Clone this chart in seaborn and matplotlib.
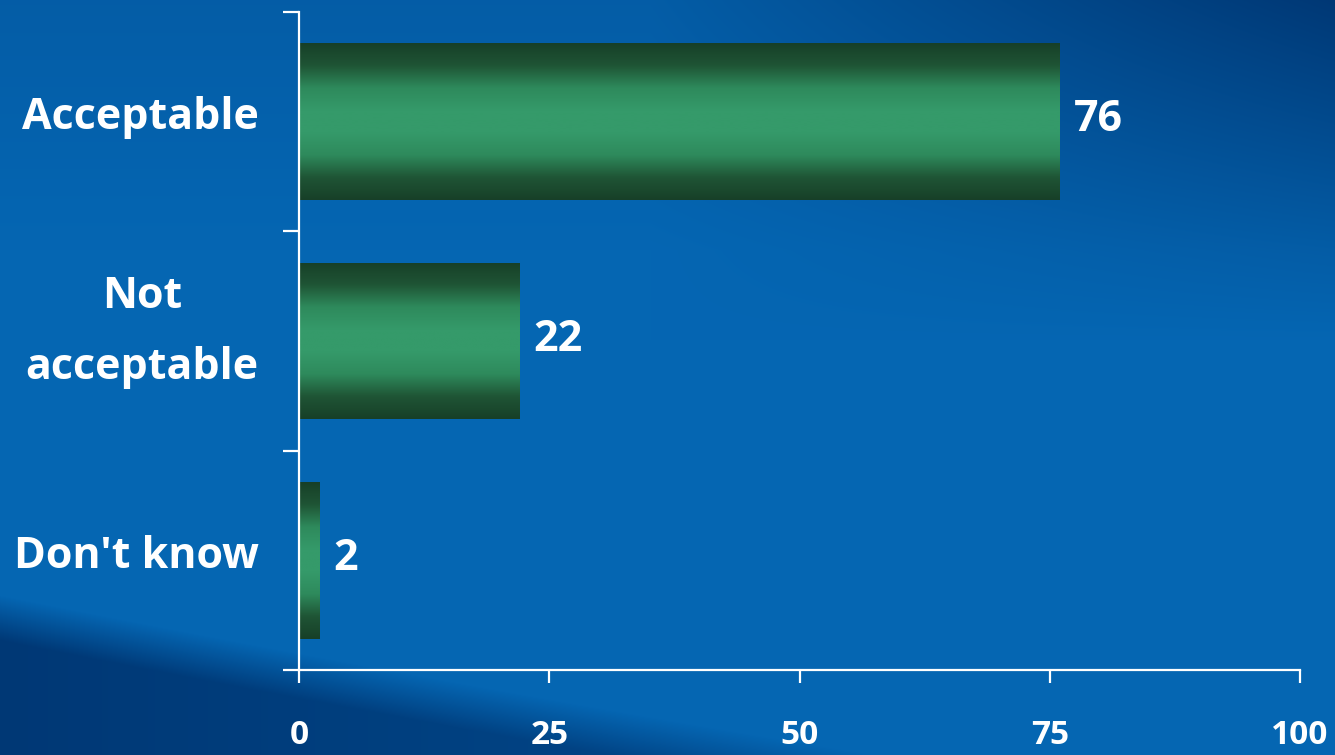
import numpy as np
import pandas as pd
import matplotlib
matplotlib.use("Agg")
import matplotlib.pyplot as plt
import matplotlib.transforms as mtransforms
import seaborn as sns
from matplotlib.colors import LinearSegmentedColormap

categories = ["Acceptable", "Not\nacceptable", "Don't know"]
values = [76, 22, 2]
x_ticks = [0, 25, 50, 75, 100]

sns.set_theme(style="white")
plt.rcParams['font.family'] = ['Open Sans', 'DejaVu Sans']

W, H = 1335, 755
fig = plt.figure(figsize=(W / 100, H / 100), dpi=100)

# background gradient
bg = fig.add_axes([0, 0, 1, 1])
yy, xx = np.mgrid[0:H, 0:W].astype(float)
base = np.array([0.02, 0.40, 0.70])
dark = np.array([0.0, 0.22, 0.46])
curve = 595 + 0.2 * xx - 0.00002 * xx ** 2
wave = np.clip((yy - curve) / 45.0, 0, 1) * (0.55 + 0.45 * np.clip(1 - xx / 1100.0, 0, 1))
tr = np.clip((xx - 650) / 685.0, 0, 1) * np.clip(1 - yy / 340.0, 0, 1) * 0.8
top = np.clip(1 - yy / 250.0, 0, 1) * 0.2
t = np.clip(wave + tr + top, 0, 1)[..., None]
img = np.clip(base * (1 - t) + dark * t, 0, 1)
bg.imshow(img, extent=[0, W, H, 0], aspect='auto')
bg.axis('off')

ax = fig.add_axes([299 / W, 1 - 670 / H, (1300 - 299) / W, (670 - 12) / H])
ax.patch.set_alpha(0)

df = pd.DataFrame({"cat": categories, "val": values})
sns.barplot(data=df, x="val", y="cat", orient="h", ax=ax, width=0.715,
            color="#2e8b5a", edgecolor="none")

cmap = LinearSegmentedColormap.from_list(
    "g", ["#173f28", "#1f5535", "#2e8a5c", "#359a6a", "#359a6a", "#2e8a5c",
          "#1f5535", "#173f28"])
grad = np.linspace(0, 1, 256)[:, None]
for p in ax.patches:
    x0, y0 = p.get_x(), p.get_y()
    w, h = p.get_width(), p.get_height()
    im = ax.imshow(grad, extent=[x0, x0 + w, y0 + h, y0], aspect='auto',
                   cmap=cmap, origin='upper', zorder=p.get_zorder() + 0.1)
    im.set_clip_path(p)
    ax.text(x0 + w + 1.4, y0 + h / 2, f"{int(round(w))}", color="white",
            fontsize=31, fontweight="bold", va="center", ha="left",
            transform=ax.transData + mtransforms.ScaledTranslation(0, 2 / 100, fig.dpi_scale_trans))
ax.set_xlim(0, 100)
ax.set_ylim(2.5, -0.5)

for s in ["top", "right"]:
    ax.spines[s].set_visible(False)
for s in ["left", "bottom"]:
    ax.spines[s].set_color("white")
    ax.spines[s].set_linewidth(1.6)

ax.set_xticks(x_ticks)
ax.set_xticklabels([str(v) for v in x_ticks])
ax.tick_params(axis="x", which="major", direction="out", bottom=True,
               length=9.5, width=1.6, color="white", labelcolor="white",
               labelsize=24, pad=26)
for lab in ax.get_xticklabels():
    lab.set_fontweight("bold")

ax.set_yticks(range(len(categories)))
ax.set_yticklabels(categories)
ax.set_yticks([-0.5, 0.5, 1.5, 2.5], minor=True)
ax.tick_params(axis="y", which="major", length=0, labelcolor="white",
               labelsize=31, pad=29)
ax.tick_params(axis="y", which="minor", direction="out", length=11.5,
               width=1.6, color="white", left=True)
for lab in ax.get_yticklabels():
    lab.set_fontweight("bold")
    lab.set_multialignment("center")
    shift = 9
    if "\n" in lab.get_text():
        lab.set_linespacing(1.85)
        shift = 28
    lab.set_transform(lab.get_transform() +
                      mtransforms.ScaledTranslation(0, shift / 100, fig.dpi_scale_trans))

ax.set_xlabel("")
ax.set_ylabel("")

fig.savefig("out.png", dpi=100)
